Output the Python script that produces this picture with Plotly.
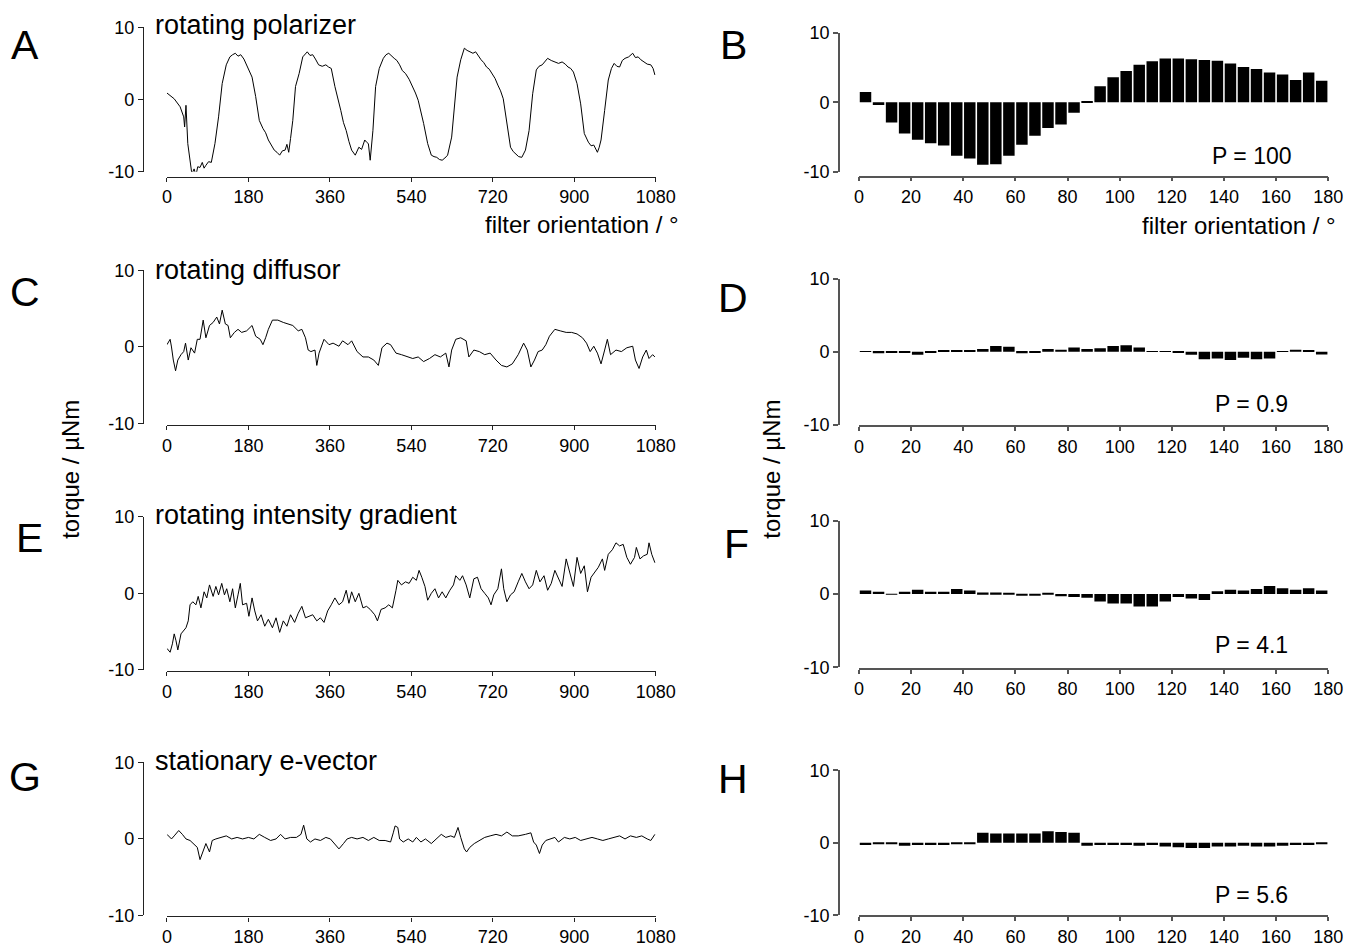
import plotly.graph_objects as go

W, H = 1359, 947

# ---------------- data ----------------
# Panel A: rotating polarizer (filter orientation in deg, torque in uNm)
a_x = [0, 16, 29, 37, 39, 42, 46, 51, 55, 60, 64, 68, 73, 78, 82, 86, 92, 98, 106, 114, 122, 131, 139, 145, 151, 157, 163,
       170, 176, 182, 188, 196, 204, 212, 218, 224, 230, 237, 243, 249, 255, 261, 265, 269, 273, 278, 284, 292, 300, 310,
       316, 322, 328, 335, 343, 351, 357, 363, 371, 378, 384, 390, 396, 402, 408, 416, 424, 430, 437, 441, 445, 449, 455,
       461, 469, 478, 484, 490, 496, 502, 508, 514, 520, 527, 535, 543, 549, 555, 561, 567, 576, 584, 590, 596, 602, 608,
       614, 620, 629, 635, 641, 649, 657, 663, 669, 676, 682, 688, 694, 700, 706, 712, 718, 725, 731, 737, 743, 751, 759,
       765, 771, 777, 784, 788, 792, 800, 808, 816, 822, 829, 835, 841, 849, 857, 865, 873, 880, 886, 892, 898, 906, 914,
       922, 931, 937, 943, 947, 951, 955, 959, 967, 975, 982, 988, 994, 1000, 1006, 1012, 1020, 1029, 1035, 1041, 1047,
       1053, 1061, 1069, 1074, 1078]
a_y = [0.9, 0.1, -1.0, -2.4, -3.8, -0.8, -6.1, -8.9, -10.3, -9.6, -10.5, -9.3, -9.4, -8.7, -9.5, -9.1, -8.6, -8.7, -6.1,
       -2.4, 2.2, 4.8, 5.9, 6.2, 6.4, 6.0, 6.2, 5.6, 4.8, 4.1, 3.1, 0.4, -2.9, -4.0, -4.6, -5.6, -6.2, -7.0, -7.3, -7.7,
       -7.1, -7.0, -6.2, -7.3, -5.4, -2.9, 1.8, 3.6, 5.9, 6.6, 6.1, 6.2, 5.6, 4.8, 4.6, 4.8, 4.5, 4.3, 1.8, 0.2, -1.5,
       -3.2, -4.3, -5.8, -7.0, -7.7, -6.6, -6.9, -5.6, -5.9, -6.1, -8.4, -4.3, 1.8, 4.3, 5.7, 6.2, 6.4, 6.0, 5.7, 5.4,
       4.8, 4.0, 3.6, 2.8, 1.8, 0.9, -0.1, -1.6, -3.3, -6.1, -7.7, -7.9, -8.0, -8.3, -8.4, -8.1, -7.7, -5.2, -1.5, 3.1,
       5.5, 7.1, 6.8, 6.6, 6.4, 6.6, 6.0, 5.5, 5.1, 4.5, 4.2, 3.6, 2.9, 2.0, 1.2, 0.1, -3.3, -6.6, -7.2, -7.5, -7.9, -8.0,
       -7.4, -7.0, -4.3, 0.8, 4.1, 4.6, 4.8, 5.2, 5.7, 5.4, 5.2, 5.0, 5.2, 4.9, 4.5, 4.3, 3.8, 2.2, -0.6, -4.7, -5.9,
       -6.4, -6.3, -6.8, -7.3, -6.6, -5.6, -1.5, 2.7, 4.3, 5.0, 4.6, 4.5, 5.4, 5.7, 5.9, 6.4, 5.8, 5.9, 5.5, 5.2, 4.9,
       4.8, 4.3, 3.4]

# Panel C: rotating diffusor
c_x = [0, 7, 10, 14, 19, 24, 31, 37, 41, 47, 53, 61, 67, 73, 80, 86, 94, 102, 110, 116, 122, 129, 135, 140, 149, 157,
       165, 176, 188, 196, 206, 212, 218, 224, 233, 245, 257, 269, 278, 290, 298, 306, 312, 318, 327, 331, 336, 347,
       358, 367, 380, 388, 400, 408, 420, 433, 445, 457, 467, 475, 486, 494, 506, 518, 531, 543, 555, 567, 580, 592,
       604, 616, 623, 629, 638, 649, 661, 667, 678, 690, 702, 714, 727, 739, 751, 763, 776, 788, 796, 804, 812, 820,
       829, 837, 845, 857, 869, 882, 894, 906, 918, 927, 935, 943, 951, 959, 967, 973, 980, 992, 1004, 1016, 1029,
       1035, 1043, 1051, 1059, 1065, 1073, 1078]
c_y = [0.3, 1.0, 0.0, -1.7, -3.1, -1.7, -1.0, -0.6, 0.5, -1.7, -0.1, -0.8, 1.0, 1.0, 3.5, 1.2, 2.8, 3.2, 3.9, 3.0, 4.8,
       3.0, 2.8, 1.2, 1.9, 2.3, 1.9, 2.1, 2.8, 1.4, 1.0, 0.3, 1.2, 2.3, 3.5, 3.5, 3.2, 3.0, 2.8, 2.1, 2.3, 1.2, -0.4,
       -0.6, -0.4, -2.4, -0.8, 1.0, 0.3, 0.5, 0.1, 0.8, 0.3, 0.8, -0.6, -1.3, -1.3, -1.7, -2.4, -0.1, 0.5, 0.3, -0.8,
       -1.0, -1.3, -1.5, -1.3, -1.9, -1.5, -1.0, -1.3, -0.8, -2.6, -0.4, 1.0, 1.2, 0.8, -1.3, -0.4, -0.6, -1.0, -0.8,
       -1.7, -2.4, -2.6, -2.2, -1.0, 0.5, -0.4, -2.6, -1.7, -0.6, -0.4, 0.3, 1.4, 2.3, 2.1, 1.9, 1.9, 1.7, 1.2, 0.5,
       -0.6, 0.1, -0.8, -2.2, -0.4, 1.0, -1.0, -0.4, -0.6, -0.1, 0.1, -1.7, -2.8, -1.3, -0.4, -1.5, -1.0, -1.3]

# Panel E: rotating intensity gradient
e_x = [0, 7, 12, 16, 20, 24, 31, 37, 42, 47, 51, 57, 64, 69, 75, 82, 88, 94, 102, 108, 114, 121, 127, 132, 139, 145,
       151, 157, 162, 167, 176, 181, 188, 194, 200, 208, 216, 224, 233, 241, 249, 257, 265, 273, 282, 290, 298, 306,
       314, 322, 331, 339, 347, 355, 363, 371, 380, 388, 396, 402, 408, 416, 424, 433, 441, 449, 459, 465, 473, 482,
       490, 498, 506, 510, 518, 527, 535, 543, 551, 557, 563, 570, 576, 584, 592, 600, 608, 616, 625, 633, 638, 647,
       653, 661, 669, 678, 686, 694, 702, 710, 716, 722, 731, 739, 744, 751, 759, 767, 776, 784, 792, 800, 808, 816,
       824, 833, 841, 849, 857, 865, 873, 882, 890, 898, 906, 914, 922, 929, 937, 945, 953, 962, 967, 975, 984, 992,
       1000, 1008, 1016, 1024, 1033, 1037, 1045, 1053, 1061, 1065, 1071, 1078]
e_y = [-7.2, -7.7, -6.6, -5.3, -6.2, -7.4, -5.3, -4.9, -4.5, -3.6, -1.5, -1.1, -1.5, -0.4, -1.9, 0.2, -0.6, 1.1, -0.4,
       0.9, -0.2, 1.3, -0.2, 0.6, -1.1, 0.6, -1.9, -0.2, 1.3, -1.5, -1.3, -3.0, -0.6, -2.3, -3.6, -2.8, -4.3, -3.4,
       -4.5, -3.2, -5.1, -3.6, -4.3, -2.8, -3.8, -2.6, -1.7, -3.2, -3.0, -2.8, -3.6, -3.2, -3.8, -2.3, -1.5, -0.6,
       -1.5, -1.1, 0.4, -1.3, 0.2, -1.1, 0.0, -1.9, -1.7, -2.1, -2.8, -3.6, -2.1, -1.9, -1.5, -1.9, 0.4, 1.7, 1.1,
       1.5, 1.3, 2.1, 1.7, 3.0, 2.1, 0.9, -0.9, 0.0, 0.6, -0.6, 0.2, -0.6, 0.4, 1.1, 2.3, 1.7, 2.3, 1.1, -0.6, 1.9,
       2.1, 0.6, 0.0, -0.6, -1.5, -0.2, 0.6, 3.2, 0.6, -1.1, -0.2, 0.2, 1.5, 2.6, 1.5, 0.6, 1.1, 3.0, 1.5, 2.3, 0.4,
       1.3, 3.0, 1.9, 0.9, 4.5, 2.8, 0.9, 4.7, 2.6, 3.6, 0.2, 2.1, 2.8, 3.4, 4.5, 3.0, 5.1, 5.7, 6.6, 6.2, 6.4, 4.7,
       3.8, 4.7, 6.0, 4.5, 4.9, 5.1, 6.6, 5.1, 4.0]

# Panel G: stationary e-vector
g_x = [0, 10, 16, 26, 34, 42, 51, 59, 67, 73, 80, 86, 94, 100, 108, 118, 131, 143, 155, 167, 180, 192, 204, 216, 229,
       241, 251, 261, 273, 286, 296, 302, 309, 317, 327, 339, 351, 361, 369, 380, 390, 398, 408, 420, 433, 445, 457,
       469, 482, 494, 500, 504, 510, 514, 522, 533, 543, 551, 561, 571, 584, 596, 606, 616, 627, 635, 643, 649, 657,
       662, 669, 679, 690, 702, 714, 727, 739, 751, 763, 776, 792, 804, 810, 816, 823, 829, 837, 845, 857, 865, 878,
       890, 902, 914, 927, 939, 951, 963, 975, 988, 1000, 1012, 1024, 1037, 1049, 1061, 1069, 1078]
g_y = [0.6, 0.0, 0.4, 1.1, 0.6, 0.0, -0.2, -0.6, -1.1, -2.7, -1.7, -0.6, -1.7, -0.2, 0.0, 0.2, 0.4, 0.0, 0.2, 0.0,
       0.2, 0.0, 0.6, 0.2, -0.2, 0.0, 0.6, 0.0, 0.2, 0.2, 0.6, 1.8, 0.0, -0.4, 0.0, -0.2, 0.2, 0.0, -0.6, -1.3, -0.6,
       0.0, 0.2, 0.0, 0.2, -0.2, 0.2, -0.2, -0.2, -0.4, 0.8, 1.7, 1.5, 0.0, -0.4, 0.0, -0.4, 0.2, -0.4, 0.0, -0.6,
       0.0, 0.6, 0.2, 0.4, 0.2, 1.5, 0.2, -1.3, -1.7, -1.1, -0.6, -0.2, 0.2, 0.4, 0.6, 0.4, 0.9, 0.4, 0.4, 0.6, 0.8,
       -0.4, -0.8, -1.9, -0.8, -0.2, 0.0, 0.2, -0.4, 0.2, 0.0, 0.2, -0.2, 0.0, 0.2, 0.0, -0.2, 0.0, 0.2, 0.4, 0.0,
       0.4, 0.2, 0.4, 0.0, -0.2, 0.6]

# Right column: mean torque per 5 deg bin
bin_centers = [2.5 + 5 * i for i in range(36)]
b_vals = [1.5, -0.4, -2.9, -4.5, -5.4, -5.9, -6.2, -7.7, -8.1, -9.0, -8.9, -7.7, -6.1, -4.8, -3.7, -3.2, -1.5, 0.2,
          2.3, 3.6, 4.5, 5.4, 5.9, 6.3, 6.3, 6.2, 6.1, 6.0, 5.6, 5.1, 4.8, 4.3, 4.0, 3.2, 4.3, 3.1]
d_vals = [0.05, -0.2, -0.1, -0.1, -0.4, -0.1, 0.2, 0.2, 0.2, 0.4, 0.8, 0.7, -0.2, -0.05, 0.4, 0.3, 0.6, 0.4, 0.5,
          0.8, 0.9, 0.6, 0.05, 0.05, -0.1, -0.4, -1.0, -0.9, -1.1, -0.8, -1.0, -0.9, 0.1, 0.3, 0.2, -0.35]
f_vals = [0.5, 0.3, -0.05, 0.3, 0.6, 0.3, 0.3, 0.7, 0.5, 0.2, 0.2, 0.15, -0.2, -0.2, 0.1, -0.3, -0.4, -0.5, -1.0,
          -1.3, -1.3, -1.7, -1.7, -1.0, -0.4, -0.6, -0.8, 0.4, 0.6, 0.5, 0.7, 1.1, 0.8, 0.6, 0.8, 0.5]
h_vals = [-0.3, -0.1, -0.2, -0.4, -0.3, -0.3, -0.3, -0.2, -0.2, 1.4, 1.3, 1.3, 1.3, 1.3, 1.6, 1.5, 1.4, -0.4, -0.3,
          -0.3, -0.3, -0.4, -0.3, -0.5, -0.6, -0.7, -0.7, -0.5, -0.5, -0.4, -0.5, -0.5, -0.4, -0.3, -0.3, -0.2]

left_titles = ["rotating polarizer", "rotating diffusor", "rotating intensity gradient", "stationary e-vector"]
p_labels = ["P = 100", "P = 0.9", "P = 4.1", "P = 5.6"]
letters_left = ["A", "C", "E", "G"]
letters_right = ["B", "D", "F", "H"]
left_ticks = [0, 180, 360, 540, 720, 900, 1080]
right_ticks = [0, 20, 40, 60, 80, 100, 120, 140, 160, 180]
y_ticks = [-10, 0, 10]

# ---------------- layout geometry (pixels) ----------------
def fx(px):
    return px / W

def fy(py):
    return 1 - py / H

TICK_FONT = dict(family="Liberation Sans, Arial, sans-serif", size=18, color="black")
TEXT_FONT = "Liberation Sans, Arial, sans-serif"

left_x = (165, 663)
right_x = (870, 1348)
left_yaxis_px = 140.5
right_yaxis_px = 849.5
# (y of +10, y of -10, y of x-axis line)
left_rows = [(17.7, 166, 171), (267, 424.5, 426), (520, 677, 678.5), (772, 929, 930)]
right_rows = [(23.5, 166, 171), (276, 425.5, 427), (524, 674.5, 676), (780, 929, 930)]

fig = go.Figure()
layout = {}
annotations = []

line_data = [(a_x, a_y), (c_x, c_y), (e_x, e_y), (g_x, g_y)]
bar_data = [b_vals, d_vals, f_vals, h_vals]

for i in range(4):
    # left panel
    n = 2 * i + 1
    xa = "xaxis" if n == 1 else f"xaxis{n}"
    ya = "yaxis" if n == 1 else f"yaxis{n}"
    xr = "x" if n == 1 else f"x{n}"
    yr = "y" if n == 1 else f"y{n}"
    top, bot, axl = left_rows[i]
    fig.add_trace(go.Scatter(x=line_data[i][0], y=line_data[i][1], mode="lines",
                             line=dict(color="black", width=1), xaxis=xr, yaxis=yr,
                             showlegend=False, hoverinfo="skip"))
    layout[xa] = dict(domain=[fx(left_x[0]), fx(left_x[1])], range=[0, 1080], anchor="free",
                      position=fy(axl), showline=True, linecolor="#222", linewidth=1.3,
                      ticks="outside", ticklen=4, tickcolor="#222", tickwidth=1.3,
                      tickvals=left_ticks, ticktext=[str(t) for t in left_ticks],
                      tickfont=TICK_FONT, showgrid=False, zeroline=False, fixedrange=True)
    layout[ya] = dict(domain=[fy(bot), fy(top)], range=[-10, 10], anchor="free",
                      position=fx(left_yaxis_px), showline=True, linecolor="#222", linewidth=1.3,
                      ticks="outside", ticklen=5, tickcolor="#222", tickwidth=1.3,
                      tickvals=y_ticks, ticktext=[str(t) for t in y_ticks],
                      tickfont=TICK_FONT, showgrid=False, zeroline=False, fixedrange=True)

    # right panel
    n = 2 * i + 2
    xa = f"xaxis{n}"
    ya = f"yaxis{n}"
    xr = f"x{n}"
    yr = f"y{n}"
    top, bot, axl = right_rows[i]
    fig.add_trace(go.Bar(x=bin_centers, y=bar_data[i], width=4.4, marker=dict(color="black", line=dict(width=0)),
                         xaxis=xr, yaxis=yr, showlegend=False, hoverinfo="skip"))
    layout[xa] = dict(domain=[fx(right_x[0]), fx(right_x[1])], range=[0, 180], anchor="free",
                      position=fy(axl), showline=True, linecolor="#555", linewidth=1.5,
                      ticks="outside", ticklen=4, tickcolor="#555", tickwidth=1.5,
                      tickvals=right_ticks, ticktext=[str(t) for t in right_ticks],
                      tickfont=TICK_FONT, showgrid=False, zeroline=False, fixedrange=True)
    layout[ya] = dict(domain=[fy(bot), fy(top)], range=[-10, 10], anchor="free",
                      position=fx(right_yaxis_px), showline=True, linecolor="#555", linewidth=1.5,
                      ticks="outside", ticklen=5, tickcolor="#555", tickwidth=1.5,
                      tickvals=y_ticks, ticktext=[str(t) for t in y_ticks],
                      tickfont=TICK_FONT, showgrid=False, zeroline=False, fixedrange=True)

# panel titles
title_y = [15, 267, 518, 771]
for i in range(4):
    annotations.append(dict(text=left_titles[i], x=fx(151), y=fy(title_y[i]), xref="paper", yref="paper",
                            xanchor="left", yanchor="middle", showarrow=False,
                            font=dict(family=TEXT_FONT, size=27, color="black")))
# panel letters
letter_pos_left = [(20, 36), (20, 289), (25, 542), (20, 787)]
letter_pos_right = [(742, 36), (742, 295), (745, 548), (742, 789)]
for i in range(4):
    for lab, (px, py) in ((letters_left[i], letter_pos_left[i]), (letters_right[i], letter_pos_right[i])):
        annotations.append(dict(text=lab, x=fx(px), y=fy(py), xref="paper", yref="paper",
                                xanchor="center", yanchor="middle", showarrow=False,
                                font=dict(family=TEXT_FONT, size=41, color="black")))
# P labels
p_y = [150, 404, 652, 908]
for i in range(4):
    annotations.append(dict(text=p_labels[i], x=fx(1270), y=fy(p_y[i]), xref="paper", yref="paper",
                            xanchor="center", yanchor="middle", showarrow=False,
                            font=dict(family=TEXT_FONT, size=23, color="black")))
# x-axis titles
annotations.append(dict(text="filter orientation / °", x=fx(689), y=fy(220), xref="paper", yref="paper",
                        xanchor="right", yanchor="middle", showarrow=False,
                        font=dict(family=TEXT_FONT, size=24, color="black")))
annotations.append(dict(text="filter orientation / °", x=fx(1358), y=fy(221), xref="paper", yref="paper",
                        xanchor="right", yanchor="middle", showarrow=False,
                        font=dict(family=TEXT_FONT, size=24, color="black")))
# y-axis titles
for px in (66, 780):
    annotations.append(dict(text="torque / µNm", x=fx(px), y=fy(471), xref="paper", yref="paper",
                            xanchor="center", yanchor="middle", showarrow=False, textangle=-90,
                            font=dict(family=TEXT_FONT, size=24, color="black")))

fig.update_layout(width=W, height=H, margin=dict(l=0, r=0, t=0, b=0), paper_bgcolor="white",
                  plot_bgcolor="white", annotations=annotations, bargap=0.1, **layout)

fig.write_html("out.html", config={"displayModeBar": False})
